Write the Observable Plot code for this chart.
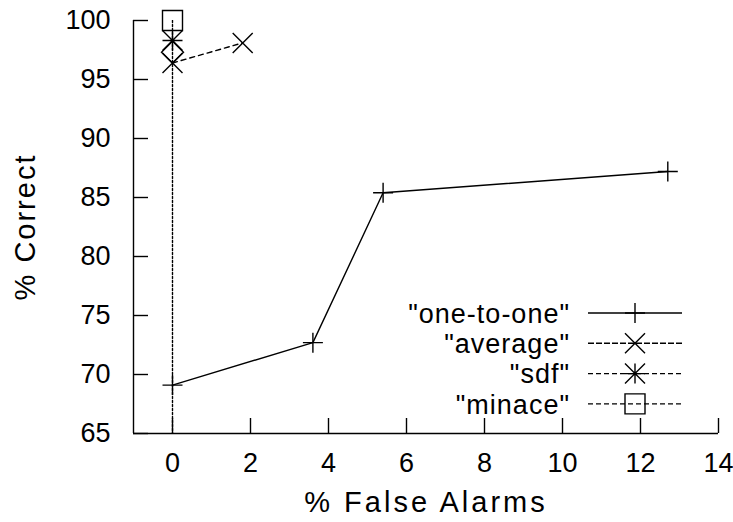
<!DOCTYPE html>
<html>
<head>
<meta charset="utf-8">
<script src="https://cdn.jsdelivr.net/npm/d3@7"></script>
<script src="https://cdn.jsdelivr.net/npm/@observablehq/plot@0.6"></script>
<style>
  html, body { margin: 0; padding: 0; background: #fff; }
  #chart svg { display: block; font-family: "Liberation Sans", Arial, sans-serif; }
</style>
</head>
<body>
<div id="chart"></div>
<script>
// ---- data ----
const oneToOneX = [0, 3.6, 5.4, 12.7];
const oneToOneY = [69.1, 72.7, 85.4, 87.2];
const averageX = [0, 1.8];
const averageY = [96.4, 98.1];
const sdfX = [0];
const sdfY = [98.3];
const minaceX = [0, 0];
const minaceY = [100, 60];
const extraX = [0];
const extraY = [97.3];
const seriesNames = ['"one-to-one"', '"average"', '"sdf"', '"minace"'];
const xTicks = [0, 2, 4, 6, 8, 10, 12, 14];
const yTicks = [65, 70, 75, 80, 85, 90, 95, 100];
const xDomain = [-1, 14];
const yDomain = [65, 100];
const xTitle = "% False Alarms";
const yTitle = "% Correct";

// ---- gnuplot-like symbols ----
const half = size => Math.sqrt(size / Math.PI);
const symPlus = {draw(c, s) { const h = half(s); c.moveTo(-h, 0); c.lineTo(h, 0); c.moveTo(0, -h); c.lineTo(0, h); }};
const symTimes = {draw(c, s) { const h = half(s); c.moveTo(-h, -h); c.lineTo(h, h); c.moveTo(-h, h); c.lineTo(h, -h); }};
const symStar = {draw(c, s) { symPlus.draw(c, s); symTimes.draw(c, s); }};
const symBox = {draw(c, s) { const h = half(s); c.moveTo(-h, -h); c.lineTo(h, -h); c.lineTo(h, h); c.lineTo(-h, h); c.closePath(); }};
const symDiamond = {draw(c, s) { const h = half(s) * 1.1; c.moveTo(0, -h); c.lineTo(h, 0); c.lineTo(0, h); c.lineTo(-h, 0); c.closePath(); }};

const toRows = (xs, ys) => xs.map((x, i) => ({x, y: ys[i]}));
const oneToOne = toRows(oneToOneX, oneToOneY);
const average = toRows(averageX, averageY);
const sdf = toRows(sdfX, sdfY);
const minace = toRows(minaceX, minaceY);
const extra = toRows(extraX, extraY);

const styles = [
  {symbol: symPlus, dash: null, legendDash: null},
  {symbol: symTimes, dash: "5,4", legendDash: "6,2"},
  {symbol: symStar, dash: "4,3", legendDash: "5,3"},
  {symbol: symBox, dash: "2,2", legendDash: "5,3"}
];

const SW = 1.4;
const R = 10;
const FS = 27;
const inDomain = d => d.y >= yDomain[0] && d.y <= yDomain[1];

const plot = Plot.plot({
  width: 733,
  height: 522,
  marginLeft: 133,
  marginRight: 15,
  marginTop: 20,
  marginBottom: 89,
  style: {fontFamily: '"Liberation Sans", Arial, sans-serif', color: "black", background: "white"},
  x: {domain: xDomain},
  y: {domain: yDomain},
  marks: [
    // inward tick marks
    Plot.axisY(yTicks, {tickSize: 15, dx: 15, text: null, label: null, strokeWidth: SW, strokeOpacity: 1}),
    Plot.axisX(xTicks, {tickSize: 15, dy: -15, text: null, label: null, strokeWidth: SW, strokeOpacity: 1}),
    // tick labels
    Plot.axisY(yTicks, {tickSize: 0, tickPadding: 23, fontSize: FS, label: null}),
    Plot.axisX(xTicks, {tickSize: 0, tickPadding: 19, fontSize: FS, label: null}),
    // axis lines
    Plot.ruleX([xDomain[0]], {stroke: "black", strokeWidth: SW}),
    Plot.ruleY([yDomain[0]], {stroke: "black", strokeWidth: SW}),
    // titles
    Plot.text([xTitle], {frameAnchor: "bottom", textAnchor: "middle", dy: 69, lineAnchor: "middle", fontSize: 29, fill: "black"}),
    Plot.text([yTitle], {frameAnchor: "left", textAnchor: "middle", dx: -108, rotate: -90, lineAnchor: "middle", fontSize: 29, fill: "black"}),
    // series
    Plot.line(minace, {x: "x", y: "y", stroke: "black", strokeWidth: SW, strokeDasharray: styles[3].dash, clip: true}),
    Plot.dot(minace, {filter: inDomain, x: "x", y: "y", symbol: symBox, r: R, stroke: "black", strokeWidth: SW, fill: "none"}),
    Plot.dot(extra, {x: "x", y: "y", symbol: symDiamond, r: R, stroke: "black", strokeWidth: SW, fill: "none"}),
    Plot.dot(sdf, {x: "x", y: "y", symbol: symStar, r: R, stroke: "black", strokeWidth: SW, fill: "none"}),
    Plot.line(average, {x: "x", y: "y", stroke: "black", strokeWidth: SW, strokeDasharray: styles[1].dash}),
    Plot.dot(average, {x: "x", y: "y", symbol: symTimes, r: R, stroke: "black", strokeWidth: SW, fill: "none"}),
    Plot.line(oneToOne, {x: "x", y: "y", stroke: "black", strokeWidth: SW}),
    Plot.dot(oneToOne, {x: "x", y: "y", symbol: symPlus, r: R, stroke: "black", strokeWidth: SW, fill: "none"})
  ]
});

const svg = d3.select(plot);
// wider gnuplot-style lettering
svg.selectAll("text").each(function() {
  const t = this.textContent;
  if (t === xTitle) this.setAttribute("letter-spacing", "3px");
  else if (t === yTitle) this.setAttribute("letter-spacing", "2px");
});

// ---- legend (inside the plot area, gnuplot style) ----
const leg = svg.append("g").attr("class", "legend");
const textRight = 570, lineX1 = 588, lineX2 = 682, markX = 635, rowY0 = 313, rowStep = 30.3;
seriesNames.forEach((name, i) => {
  const y = rowY0 + i * rowStep;
  leg.append("text")
    .attr("x", textRight).attr("y", y).attr("dy", "0.36em")
    .attr("text-anchor", "end")
    .attr("font-size", FS)
    .attr("letter-spacing", "1px")
    .attr("fill", "black")
    .text(name);
  leg.append("line")
    .attr("x1", lineX1).attr("x2", lineX2).attr("y1", y).attr("y2", y)
    .attr("stroke", "black").attr("stroke-width", SW)
    .attr("stroke-dasharray", styles[i].legendDash);
  leg.append("path")
    .attr("transform", `translate(${markX},${y})`)
    .attr("d", d3.symbol(styles[i].symbol, Math.PI * R * R)())
    .attr("stroke", "black").attr("stroke-width", SW)
    .attr("fill", "none");
});

document.getElementById("chart").append(plot);
</script>
</body>
</html>
